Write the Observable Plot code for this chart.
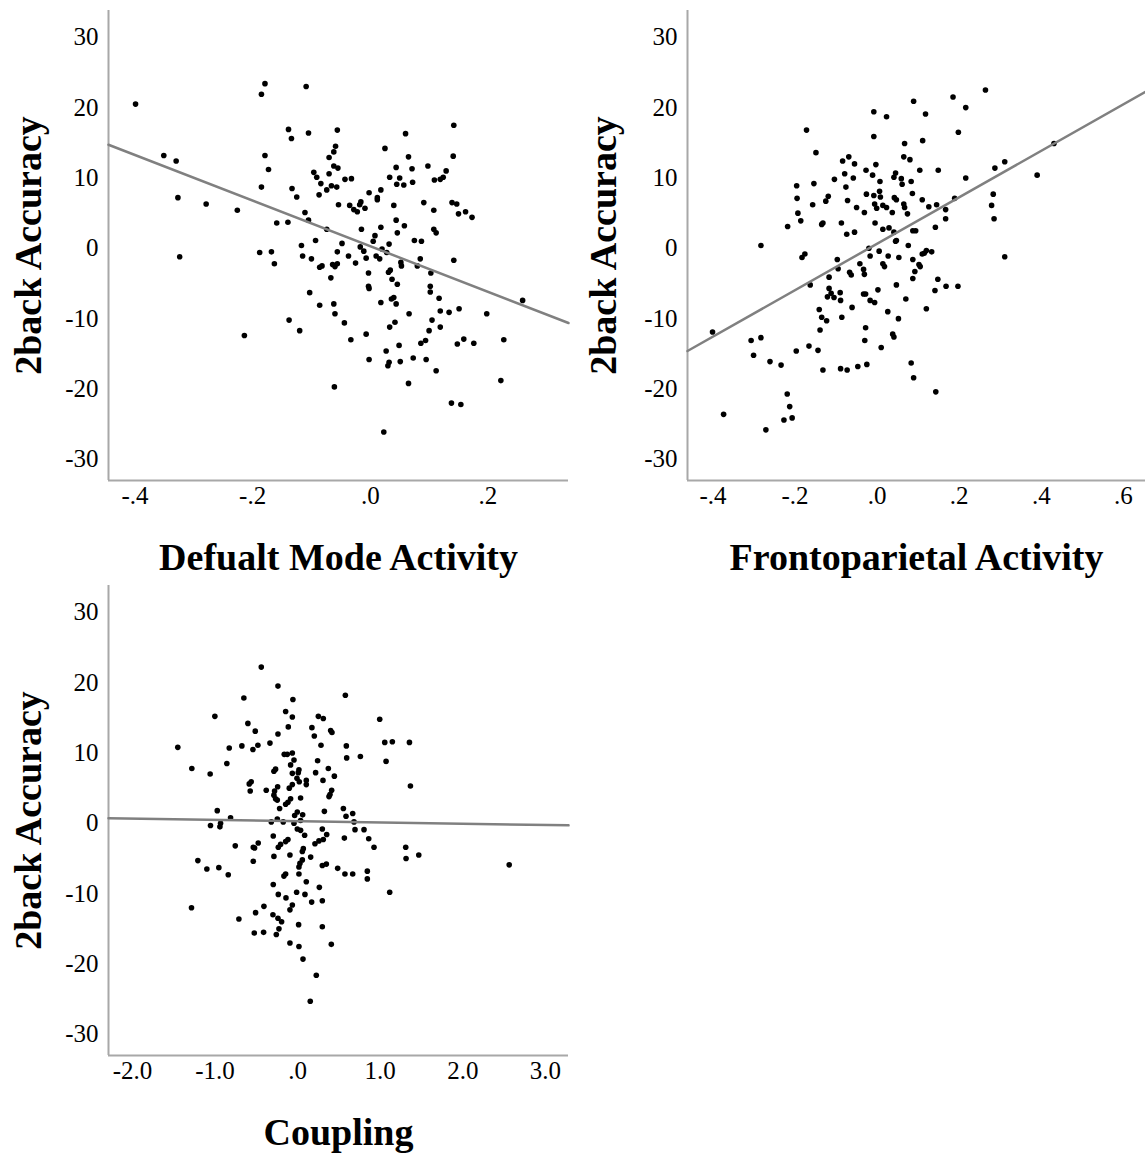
<!DOCTYPE html>
<html>
<head>
<meta charset="utf-8">
<script src="https://cdn.jsdelivr.net/npm/d3@7"></script>
<script src="https://cdn.jsdelivr.net/npm/@observablehq/plot@0.6"></script>
<style>
  html, body { margin: 0; padding: 0; background: #fff; }
  #wrap { position: relative; width: 1145px; height: 1154px; overflow: hidden; background: #fff; }
  .panel { position: absolute; }
</style>
</head>
<body>
<div id="wrap"></div>
<script>
// ---------- Shared ----------
const yLabel = "2back Accuracy";
const yTicks = [-30, -20, -10, 0, 10, 20, 30];
const yDomain = [-33, 33.8];

// ---------- Panel 1: Default mode activity ----------
const dmodeLabel = "Defualt Mode Activity";
const dmodeTicks = [-0.4, -0.2, 0, 0.2];
const dmodeDomain = [-0.445, 0.337];
const dmodeFit = [0.3, -32.4]; // intercept, slope
const dmodeX = [-0.399,-0.185,-0.179,-0.109,-0.139,-0.134,-0.105,-0.056,-0.059,-0.062,-0.070,-0.351,-0.330,-0.179,-0.173,-0.062,-0.055,-0.096,-0.091,-0.084,-0.070,-0.066,-0.057,-0.074,-0.087,-0.185,-0.133,-0.125,-0.327,-0.279,-0.226,-0.054,-0.111,-0.105,-0.159,-0.140,-0.074,-0.093,-0.117,
  0.142,0.060,0.025,0.065,0.141,0.044,0.071,0.098,0.129,0.033,0.050,0.109,0.119,0.124,0.045,0.057,0.072,-0.043,-0.032,0.018,-0.002,0.012,0.012,-0.035,-0.028,-0.022,-0.016,-0.018,-0.009,0.040,0.091,0.108,0.139,0.147,0.150,0.162,0.173,0.044,0.058,0.046,-0.015,0.018,0.108,0.112,0.008,0.005,-0.048,0.032,0.075,0.087,
  -0.324,-0.188,-0.168,-0.163,-0.115,-0.100,-0.086,-0.082,-0.064,-0.060,-0.056,-0.056,-0.067,-0.103,-0.086,-0.062,-0.060,-0.138,-0.120,-0.214,-0.061,
  -0.017,-0.011,0.020,0.028,-0.037,-0.025,-0.007,0.010,0.016,-0.003,0.031,0.034,0.052,0.053,0.080,0.085,0.103,0.142,0.037,0.046,-0.003,-0.002,0.102,0.102,0.117,0.018,0.036,0.040,0.044,0.066,0.119,0.134,0.151,0.198,0.259,-0.044,-0.007,-0.033,0.033,0.042,0.105,0.100,0.119,0.086,0.094,0.049,0.148,0.159,0.176,0.227,0.027,-0.002,0.032,0.030,0.051,0.073,0.095,0.112,0.065,0.222,0.138,0.154,0.023];
const dmodeY = [20.5,21.9,23.4,23.0,16.9,15.6,16.4,16.8,14.5,13.7,12.9,13.2,12.4,13.2,11.2,11.7,11.4,10.8,10.1,9.2,10.6,8.9,8.7,8.3,7.6,8.7,8.5,7.3,7.2,6.3,5.4,6.2,5.1,4.0,3.6,3.7,2.7,1.1,0.4,
  17.5,16.3,14.2,13.0,13.1,11.5,11.3,11.7,11.0,10.1,10.0,9.7,9.8,10.1,9.1,9.0,9.4,9.8,9.9,8.3,7.9,7.2,6.9,6.1,5.5,5.2,6.6,6.2,5.7,6.1,6.5,5.4,6.5,6.3,4.9,5.2,4.4,4.0,3.2,2.2,2.7,3.0,2.7,2.2,1.8,1.0,0.7,0.6,1.1,1.0,
  -1.2,-0.6,-0.5,-2.2,-1.1,-1.5,-2.7,-2.5,-2.3,-2.6,-2.2,-0.5,-4.2,-6.3,-8.1,-7.9,-9.3,-10.2,-11.7,-12.4,-19.7,
  0.2,-0.4,-0.1,-0.6,-1.1,-2.1,-1.4,-1.1,-1.5,-3.5,-3.4,-3.1,-2.0,-2.5,-2.5,-1.5,-3.5,-1.7,-4.4,-5.1,-5.4,-5.7,-5.4,-6.2,-7.1,-7.7,-7.2,-7.0,-7.9,-9.3,-8.9,-9.1,-8.6,-9.3,-7.4,-10.6,-12.2,-13.0,-11.2,-10.5,-10.2,-11.7,-11.2,-13.5,-13.1,-13.8,-13.6,-12.9,-13.5,-13.0,-14.6,-15.8,-16.2,-16.7,-16.1,-15.6,-15.8,-17.4,-19.2,-18.8,-22.0,-22.2,-26.1];

// ---------- Panel 2: Frontoparietal activity ----------
const fpLabel = "Frontoparietal Activity";
const fpTicks = [-0.4, -0.2, 0, 0.2, 0.4, 0.6];
const fpDomain = [-0.462, 0.654];
const fpFit = [0.65, 33.0];
const fpX = [0.089,-0.008,0.023,-0.172,-0.008,-0.149,0.067,0.065,0.080,-0.084,-0.069,-0.055,-0.003,-0.027,-0.079,-0.058,-0.011,0.045,0.041,0.059,0.061,0.083,0.007,-0.104,-0.076,-0.196,-0.154,-0.026,-0.008,0.006,0.008,0.042,0.047,0.086,-0.195,-0.157,-0.125,-0.119,-0.072,-0.006,-0.001,0.014,0.023,0.065,0.067,-0.050,-0.031,0.037,0.074,-0.193,-0.186,-0.132,-0.135,-0.087,-0.218,-0.005,-0.074,-0.055,0.014,0.029,0.041,0.047,0.087,-0.283,0.076,
  0.264,0.185,0.216,0.118,0.198,0.111,0.431,0.311,0.287,0.104,0.149,0.390,0.216,0.283,0.110,0.189,0.145,0.126,0.167,0.279,0.167,0.285,0.142,0.094,
  -0.183,-0.176,-0.097,-0.095,-0.117,-0.163,-0.020,0.005,-0.017,0.027,0.045,0.053,0.087,-0.042,0.014,0.018,-0.033,-0.031,-0.067,-0.063,0.092,0.087,-0.117,-0.112,-0.121,-0.105,-0.090,-0.089,0.047,0.002,-0.033,-0.028,-0.017,-0.006,0.070,-0.061,-0.141,-0.135,-0.123,-0.086,0.026,0.052,-0.139,-0.028,-0.030,0.038,0.041,0.010,-0.401,-0.307,-0.283,-0.301,-0.261,-0.234,-0.197,-0.166,-0.144,-0.132,-0.089,-0.073,-0.047,-0.025,0.083,0.089,-0.219,-0.213,-0.227,-0.207,-0.374,-0.271,
  0.120,0.133,0.110,0.115,0.102,0.105,0.148,0.141,0.168,0.197,0.311,0.120,0.143];
const fpY = [20.9,19.4,18.7,16.8,15.9,13.6,14.9,13.0,12.6,12.4,13.0,12.0,11.9,11.1,10.6,10.0,10.4,10.7,10.1,9.9,9.1,9.5,9.5,9.8,8.7,8.9,9.2,7.7,7.5,8.1,7.3,7.2,6.9,7.8,7.1,6.2,6.7,7.4,6.8,6.3,5.7,6.1,5.8,6.3,5.8,5.8,5.1,5.1,4.9,5.0,3.9,3.6,3.4,3.6,3.1,3.6,2.0,2.3,2.7,2.9,2.3,1.1,2.5,0.4,0.4,
  22.5,21.5,20.0,19.1,16.5,15.3,14.9,12.3,11.4,11.1,11.1,10.4,10.0,7.7,6.9,7.1,6.2,5.9,5.5,6.1,4.2,4.2,3.0,2.5,
  -1.3,-0.8,-1.6,-2.9,-4.1,-5.2,0.0,-0.4,-1.1,-1.1,1.0,-1.3,-1.6,-2.2,-2.2,-2.6,-3.0,-3.7,-3.4,-3.8,-3.3,-4.3,-5.7,-6.4,-6.9,-7.0,-6.3,-7.4,-5.2,-5.9,-6.5,-6.5,-7.4,-7.7,-7.2,-8.4,-8.7,-9.8,-10.3,-9.8,-9.0,-10.0,-11.6,-11.3,-13.1,-12.2,-12.6,-14.1,-11.9,-13.1,-12.7,-15.2,-16.1,-16.6,-14.6,-13.9,-14.5,-17.3,-17.1,-17.3,-16.8,-16.5,-16.3,-18.4,-20.7,-22.5,-24.4,-24.1,-23.6,-25.8,
  -0.3,-0.5,-0.8,-0.7,-2.3,-2.6,-4.4,-6.0,-5.4,-5.4,-1.2,-8.6,-20.4];

// ---------- Panel 3: Coupling ----------
const cpLabel = "Coupling";
const cpTicks = [-2, -1, 0, 1, 2, 3];
const cpDomain = [-2.29, 3.28];
const cpFit = [0.3, -0.18];
const cpX = [-0.440,-0.238,-0.651,-0.057,-1.002,-0.145,-0.064,0.251,0.311,-0.602,-0.113,-0.513,0.173,0.202,0.400,0.416,-0.238,0.283,-1.451,-0.828,-0.675,-0.541,-0.481,-0.335,-0.162,-0.125,-0.064,-0.044,-0.085,0.242,-1.281,-0.857,-1.059,-0.287,-0.267,0.016,0.008,-0.064,0.372,0.218,0.445,0.307,-0.008,0.020,-0.064,-0.101,0.105,0.105,-0.586,-0.562,-0.574,-0.380,-0.279,-0.242,-0.287,-0.267,-0.246,0.036,0.412,0.392,0.380,-0.085,-0.117,-0.145,-0.218,-0.973,0.324,-0.004,-0.036,0.061,-0.812,
  0.578,0.994,1.055,1.147,1.354,0.590,0.594,0.760,1.071,1.366,0.554,0.586,0.667,0.683,
  -1.055,-0.941,-0.933,-0.319,-0.246,-0.174,-0.044,0.036,-0.004,0.036,0.085,0.299,0.352,0.311,0.258,0.210,-0.295,-0.117,-0.145,-0.206,-0.234,-0.477,-0.537,-0.521,-0.755,0.069,0.057,-0.287,-0.093,0.158,0.057,0.028,0.016,0.299,0.348,0.485,-0.537,-1.208,-1.099,-0.954,-0.840,-0.166,-0.145,0.016,-0.295,0.105,0.263,-0.234,-0.141,-0.012,0.089,0.170,0.299,-1.285,-0.408,-0.509,-0.064,-0.093,-0.299,-0.238,-0.194,-0.711,0.012,0.299,-0.226,-0.258,-0.525,-0.412,-0.093,0.016,0.408,0.065,0.226,0.153,
  0.695,0.804,0.566,0.861,0.925,1.309,1.313,1.467,2.562,0.573,0.667,0.844,0.844,1.115];
const cpY = [22.2,19.5,17.8,17.6,15.2,15.9,15.1,15.2,14.9,14.2,13.7,13.1,13.6,12.4,13.2,12.9,12.7,11.1,10.8,10.7,11.0,10.5,11.1,11.4,9.8,9.8,10.0,9.0,8.3,8.9,7.8,8.5,7.0,7.4,7.7,7.6,7.2,7.1,7.8,7.2,6.7,6.1,6.4,5.9,5.5,5.0,6.1,5.5,5.6,5.9,4.6,4.7,4.6,5.2,4.0,3.5,3.3,3.6,4.7,4.1,3.8,3.5,3.0,2.7,2.1,1.8,1.7,1.6,1.1,1.2,0.8,
  18.2,14.8,11.5,11.6,11.5,11.0,9.3,9.5,8.8,5.3,2.1,1.0,1.4,0.2,
  -0.3,-0.5,0.0,0.2,0.6,0.2,0.0,0.4,-0.8,-1.0,-1.7,-0.8,-1.6,-2.3,-2.5,-2.9,-1.8,-2.3,-2.6,-3.0,-3.4,-2.8,-3.4,-3.5,-3.2,-3.6,-4.0,-4.7,-4.5,-4.8,-5.2,-5.7,-6.2,-6.0,-5.8,-6.4,-5.4,-5.3,-6.5,-6.3,-7.3,-7.5,-7.2,-7.2,-8.7,-8.3,-9.1,-10.1,-10.6,-9.8,-10.1,-11.2,-11.0,-12.0,-11.8,-12.7,-11.6,-12.3,-13.0,-13.5,-14.0,-13.6,-14.4,-14.7,-15.0,-15.8,-15.6,-15.5,-17.0,-17.5,-17.2,-19.3,-21.6,-25.3,
  -0.9,-0.9,-2.1,-2.2,-3.4,-3.4,-5.0,-4.5,-5.9,-7.2,-7.2,-6.8,-7.9,-9.8];

// ---------- Drawing ----------
const FONT = "'Times New Roman', 'Liberation Serif', serif";
const fmt = d => {
  const s = (Math.abs(d) < 1e-9 ? 0 : d).toFixed(1);
  return s.replace(/^(-?)0\./, "$1.");
};
const axisGray = "#a8a8a8";

function panel({xs, ys, fit, xDomain, xTicks, xLabel, left, top, width, marginLeft, marginRight, yLabelDx}) {
  const pts = xs.map((x, i) => ({x, y: ys[i]}));
  const fitLine = xDomain.map(x => ({x, y: fit[0] + fit[1] * x}));
  const chart = Plot.plot({
    width, height: 580,
    marginLeft, marginRight, marginTop: 10, marginBottom: 100,
    style: {fontFamily: FONT, fontSize: "25px", color: "#000", background: "transparent", overflow: "visible"},
    x: {domain: xDomain},
    y: {domain: yDomain},
    marks: [
      Plot.axisX({ticks: xTicks, tickFormat: fmt, tickSize: 0, tickPadding: 6, label: null, fontSize: 25, fill: "#000"}),
      Plot.axisY({ticks: yTicks, tickFormat: d => String(d), tickSize: 0, tickPadding: 10, label: null, fontSize: 25, fill: "#000"}),
      Plot.ruleX([xDomain[0]], {stroke: axisGray, strokeWidth: 2}),
      Plot.ruleY([yDomain[0]], {stroke: axisGray, strokeWidth: 2}),
      Plot.dot(pts, {x: "x", y: "y", r: 2.8, fill: "#000", stroke: "none"}),
      Plot.line(fitLine, {x: "x", y: "y", stroke: "#808080", strokeWidth: 2.5}),
      Plot.text([xLabel], {text: d => d, frameAnchor: "bottom", lineAnchor: "middle", textAnchor: "middle", dy: 77, fontSize: 38, fontWeight: "bold", fontFamily: FONT, fill: "#000"}),
      Plot.text([yLabel], {text: d => d, frameAnchor: "left", textAnchor: "middle", lineAnchor: "middle", dx: yLabelDx, rotate: -90, fontSize: 38, fontWeight: "bold", fontFamily: FONT, fill: "#000"})
    ]
  });
  const div = document.createElement("div");
  div.className = "panel";
  div.style.left = left + "px";
  div.style.top = top + "px";
  div.appendChild(chart);
  document.getElementById("wrap").appendChild(div);
}

panel({xs: dmodeX, ys: dmodeY, fit: dmodeFit, xDomain: dmodeDomain, xTicks: dmodeTicks, xLabel: dmodeLabel,
  left: 0, top: 0, width: 572, marginLeft: 108, marginRight: 4, yLabelDx: -80});
panel({xs: fpX, ys: fpY, fit: fpFit, xDomain: fpDomain, xTicks: fpTicks, xLabel: fpLabel,
  left: 572, top: 0, width: 573, marginLeft: 115, marginRight: 0, yLabelDx: -84});
panel({xs: cpX, ys: cpY, fit: cpFit, xDomain: cpDomain, xTicks: cpTicks, xLabel: cpLabel,
  left: 0, top: 575, width: 572, marginLeft: 108, marginRight: 4, yLabelDx: -80});
</script>
</body>
</html>
